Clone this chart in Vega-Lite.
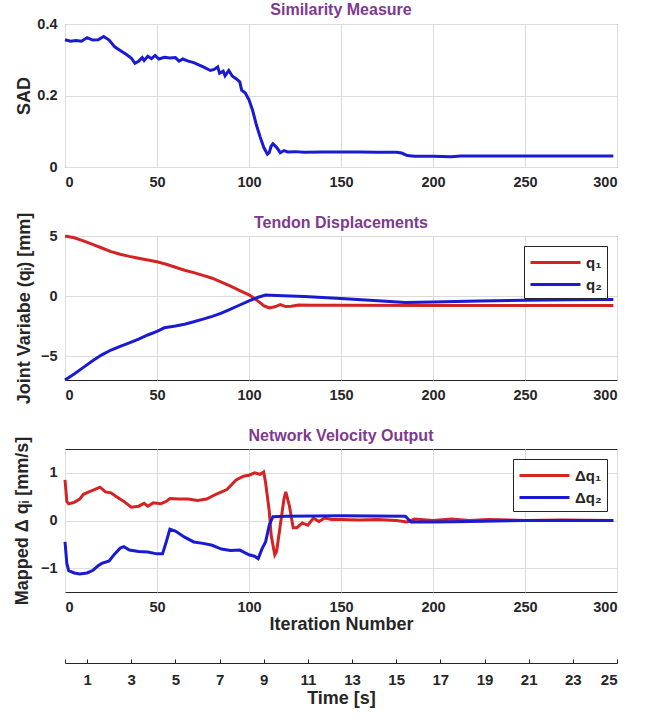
{
  "$schema": "https://vega.github.io/schema/vega-lite/v6.json",
  "padding": {"left": 12, "top": 1, "right": 3, "bottom": 2},
  "spacing": 69,
  "bounds": "flush",
  "config": {
    "font": "Liberation Sans",
    "view": {"stroke": "#262626", "strokeWidth": 1},
    "axis": {
      "labelFontWeight": "bold", "labelFontSize": 14.5, "labelColor": "#262626",
      "titleFontWeight": "bold", "titleFontSize": 18, "titleColor": "#262626",
      "gridColor": "#dcdcdc", "domain": false, "ticks": false, "labelPadding": 8
    },
    "title": {"color": "#7E3A8E", "fontSize": 16, "fontWeight": "bold", "offset": -2},
    "legend": {
      "orient": "top-right", "offset": 10, "fillColor": "white", "strokeColor": "#262626",
      "padding": 5, "symbolType": "M-1,0H4", "symbolStrokeWidth": 3, "symbolSize": 400,
      "labelOffset": 34, "labelFontSize": 15, "labelFontWeight": "bold", "labelColor": "#262626", "rowPadding": 2
    },
    "line": {"strokeWidth": 3}
  },
  "datasets": {
    "sad": [
      {"x":0,"v":0.356},{"x":3,"v":0.352},{"x":6,"v":0.354},{"x":9,"v":0.352},{"x":12,"v":0.362},{"x":15,"v":0.355},{"x":18,"v":0.356},{"x":21,"v":0.365},{"x":24,"v":0.355},{"x":27,"v":0.336},{"x":30,"v":0.326},{"x":33,"v":0.316},{"x":36,"v":0.305},{"x":38,"v":0.29},{"x":40,"v":0.296},{"x":42,"v":0.306},{"x":43,"v":0.298},{"x":45,"v":0.31},{"x":47,"v":0.303},{"x":49,"v":0.312},{"x":51,"v":0.302},{"x":54,"v":0.307},{"x":57,"v":0.305},{"x":60,"v":0.306},{"x":62,"v":0.296},{"x":64,"v":0.302},{"x":67,"v":0.296},{"x":70,"v":0.292},{"x":73,"v":0.285},{"x":76,"v":0.278},{"x":79,"v":0.27},{"x":81,"v":0.273},{"x":83,"v":0.28},{"x":84,"v":0.262},{"x":86,"v":0.268},{"x":87,"v":0.255},{"x":89,"v":0.27},{"x":91,"v":0.254},{"x":93,"v":0.247},{"x":95,"v":0.238},{"x":96,"v":0.215},{"x":98,"v":0.207},{"x":100,"v":0.188},{"x":102,"v":0.158},{"x":104,"v":0.118},{"x":106,"v":0.085},{"x":108,"v":0.055},{"x":110,"v":0.036},{"x":111,"v":0.04},{"x":112,"v":0.058},{"x":113,"v":0.065},{"x":115,"v":0.055},{"x":117,"v":0.04},{"x":119,"v":0.046},{"x":121,"v":0.042},{"x":125,"v":0.043},{"x":130,"v":0.041},{"x":140,"v":0.042},{"x":150,"v":0.042},{"x":160,"v":0.042},{"x":170,"v":0.041},{"x":180,"v":0.041},{"x":183,"v":0.039},{"x":186,"v":0.032},{"x":190,"v":0.03},{"x":200,"v":0.03},{"x":210,"v":0.029},{"x":215,"v":0.031},{"x":250,"v":0.031},{"x":298,"v":0.031}
    ],
    "q": [
      {"x":0,"v":5,"s":"q₁"},{"x":5,"v":4.85,"s":"q₁"},{"x":10,"v":4.6,"s":"q₁"},{"x":15,"v":4.3,"s":"q₁"},{"x":20,"v":4.0,"s":"q₁"},{"x":25,"v":3.7,"s":"q₁"},{"x":30,"v":3.48,"s":"q₁"},{"x":35,"v":3.3,"s":"q₁"},{"x":40,"v":3.15,"s":"q₁"},{"x":45,"v":3.0,"s":"q₁"},{"x":50,"v":2.85,"s":"q₁"},{"x":55,"v":2.65,"s":"q₁"},{"x":60,"v":2.4,"s":"q₁"},{"x":65,"v":2.15,"s":"q₁"},{"x":70,"v":1.95,"s":"q₁"},{"x":75,"v":1.72,"s":"q₁"},{"x":80,"v":1.48,"s":"q₁"},{"x":85,"v":1.15,"s":"q₁"},{"x":90,"v":0.82,"s":"q₁"},{"x":95,"v":0.45,"s":"q₁"},{"x":100,"v":0.1,"s":"q₁"},{"x":103,"v":-0.2,"s":"q₁"},{"x":106,"v":-0.55,"s":"q₁"},{"x":108,"v":-0.8,"s":"q₁"},{"x":111,"v":-1.0,"s":"q₁"},{"x":114,"v":-0.9,"s":"q₁"},{"x":117,"v":-0.72,"s":"q₁"},{"x":120,"v":-0.88,"s":"q₁"},{"x":123,"v":-0.85,"s":"q₁"},{"x":127,"v":-0.75,"s":"q₁"},{"x":135,"v":-0.78,"s":"q₁"},{"x":150,"v":-0.78,"s":"q₁"},{"x":200,"v":-0.8,"s":"q₁"},{"x":250,"v":-0.8,"s":"q₁"},{"x":298,"v":-0.8,"s":"q₁"},
      {"x":0,"v":-7,"s":"q₂"},{"x":5,"v":-6.5,"s":"q₂"},{"x":10,"v":-5.95,"s":"q₂"},{"x":15,"v":-5.4,"s":"q₂"},{"x":20,"v":-4.9,"s":"q₂"},{"x":25,"v":-4.5,"s":"q₂"},{"x":30,"v":-4.2,"s":"q₂"},{"x":35,"v":-3.9,"s":"q₂"},{"x":40,"v":-3.6,"s":"q₂"},{"x":45,"v":-3.25,"s":"q₂"},{"x":50,"v":-2.95,"s":"q₂"},{"x":54,"v":-2.65,"s":"q₂"},{"x":60,"v":-2.5,"s":"q₂"},{"x":65,"v":-2.35,"s":"q₂"},{"x":70,"v":-2.15,"s":"q₂"},{"x":75,"v":-1.93,"s":"q₂"},{"x":80,"v":-1.7,"s":"q₂"},{"x":85,"v":-1.42,"s":"q₂"},{"x":90,"v":-1.1,"s":"q₂"},{"x":95,"v":-0.75,"s":"q₂"},{"x":100,"v":-0.4,"s":"q₂"},{"x":105,"v":-0.1,"s":"q₂"},{"x":109,"v":0.08,"s":"q₂"},{"x":115,"v":0.05,"s":"q₂"},{"x":130,"v":-0.05,"s":"q₂"},{"x":150,"v":-0.2,"s":"q₂"},{"x":170,"v":-0.4,"s":"q₂"},{"x":185,"v":-0.55,"s":"q₂"},{"x":200,"v":-0.5,"s":"q₂"},{"x":225,"v":-0.42,"s":"q₂"},{"x":250,"v":-0.36,"s":"q₂"},{"x":275,"v":-0.32,"s":"q₂"},{"x":298,"v":-0.3,"s":"q₂"}
    ],
    "dq": [
      {"x":0,"v":0.85,"s":"Δq₁"},{"x":1,"v":0.4,"s":"Δq₁"},{"x":2,"v":0.35,"s":"Δq₁"},{"x":5,"v":0.38,"s":"Δq₁"},{"x":8,"v":0.45,"s":"Δq₁"},{"x":10,"v":0.55,"s":"Δq₁"},{"x":13,"v":0.6,"s":"Δq₁"},{"x":16,"v":0.65,"s":"Δq₁"},{"x":19,"v":0.7,"s":"Δq₁"},{"x":22,"v":0.6,"s":"Δq₁"},{"x":25,"v":0.58,"s":"Δq₁"},{"x":28,"v":0.5,"s":"Δq₁"},{"x":32,"v":0.4,"s":"Δq₁"},{"x":36,"v":0.28,"s":"Δq₁"},{"x":40,"v":0.3,"s":"Δq₁"},{"x":43,"v":0.36,"s":"Δq₁"},{"x":45,"v":0.3,"s":"Δq₁"},{"x":48,"v":0.37,"s":"Δq₁"},{"x":52,"v":0.35,"s":"Δq₁"},{"x":55,"v":0.4,"s":"Δq₁"},{"x":57,"v":0.46,"s":"Δq₁"},{"x":62,"v":0.45,"s":"Δq₁"},{"x":67,"v":0.45,"s":"Δq₁"},{"x":72,"v":0.42,"s":"Δq₁"},{"x":77,"v":0.45,"s":"Δq₁"},{"x":82,"v":0.55,"s":"Δq₁"},{"x":88,"v":0.65,"s":"Δq₁"},{"x":93,"v":0.85,"s":"Δq₁"},{"x":97,"v":0.93,"s":"Δq₁"},{"x":100,"v":0.95,"s":"Δq₁"},{"x":103,"v":1.0,"s":"Δq₁"},{"x":106,"v":0.97,"s":"Δq₁"},{"x":108,"v":1.02,"s":"Δq₁"},{"x":109,"v":0.8,"s":"Δq₁"},{"x":111,"v":0.2,"s":"Δq₁"},{"x":112,"v":-0.3,"s":"Δq₁"},{"x":114,"v":-0.72,"s":"Δq₁"},{"x":115,"v":-0.65,"s":"Δq₁"},{"x":117,"v":-0.1,"s":"Δq₁"},{"x":119,"v":0.45,"s":"Δq₁"},{"x":120,"v":0.6,"s":"Δq₁"},{"x":122,"v":0.3,"s":"Δq₁"},{"x":124,"v":-0.15,"s":"Δq₁"},{"x":126,"v":-0.15,"s":"Δq₁"},{"x":129,"v":-0.05,"s":"Δq₁"},{"x":132,"v":-0.1,"s":"Δq₁"},{"x":135,"v":0.05,"s":"Δq₁"},{"x":138,"v":-0.02,"s":"Δq₁"},{"x":141,"v":0.05,"s":"Δq₁"},{"x":145,"v":0.02,"s":"Δq₁"},{"x":150,"v":0.02,"s":"Δq₁"},{"x":160,"v":0.01,"s":"Δq₁"},{"x":170,"v":0.02,"s":"Δq₁"},{"x":180,"v":0.0,"s":"Δq₁"},{"x":186,"v":-0.03,"s":"Δq₁"},{"x":190,"v":0.03,"s":"Δq₁"},{"x":200,"v":0.0,"s":"Δq₁"},{"x":210,"v":0.03,"s":"Δq₁"},{"x":220,"v":0.0,"s":"Δq₁"},{"x":230,"v":0.02,"s":"Δq₁"},{"x":250,"v":0.0,"s":"Δq₁"},{"x":270,"v":0.01,"s":"Δq₁"},{"x":298,"v":0.0,"s":"Δq₁"},
      {"x":0,"v":-0.45,"s":"Δq₂"},{"x":1,"v":-0.9,"s":"Δq₂"},{"x":2,"v":-1.05,"s":"Δq₂"},{"x":5,"v":-1.1,"s":"Δq₂"},{"x":8,"v":-1.12,"s":"Δq₂"},{"x":12,"v":-1.1,"s":"Δq₂"},{"x":15,"v":-1.05,"s":"Δq₂"},{"x":18,"v":-0.95,"s":"Δq₂"},{"x":20,"v":-0.9,"s":"Δq₂"},{"x":24,"v":-0.85,"s":"Δq₂"},{"x":27,"v":-0.7,"s":"Δq₂"},{"x":30,"v":-0.58,"s":"Δq₂"},{"x":32,"v":-0.55,"s":"Δq₂"},{"x":35,"v":-0.62,"s":"Δq₂"},{"x":40,"v":-0.65,"s":"Δq₂"},{"x":45,"v":-0.66,"s":"Δq₂"},{"x":50,"v":-0.7,"s":"Δq₂"},{"x":53,"v":-0.7,"s":"Δq₂"},{"x":55,"v":-0.45,"s":"Δq₂"},{"x":57,"v":-0.18,"s":"Δq₂"},{"x":60,"v":-0.22,"s":"Δq₂"},{"x":65,"v":-0.35,"s":"Δq₂"},{"x":70,"v":-0.45,"s":"Δq₂"},{"x":75,"v":-0.48,"s":"Δq₂"},{"x":80,"v":-0.52,"s":"Δq₂"},{"x":85,"v":-0.6,"s":"Δq₂"},{"x":90,"v":-0.63,"s":"Δq₂"},{"x":95,"v":-0.62,"s":"Δq₂"},{"x":100,"v":-0.72,"s":"Δq₂"},{"x":103,"v":-0.75,"s":"Δq₂"},{"x":105,"v":-0.8,"s":"Δq₂"},{"x":107,"v":-0.6,"s":"Δq₂"},{"x":109,"v":-0.45,"s":"Δq₂"},{"x":111,"v":-0.1,"s":"Δq₂"},{"x":113,"v":0.08,"s":"Δq₂"},{"x":120,"v":0.09,"s":"Δq₂"},{"x":150,"v":0.1,"s":"Δq₂"},{"x":185,"v":0.09,"s":"Δq₂"},{"x":188,"v":-0.03,"s":"Δq₂"},{"x":200,"v":-0.03,"s":"Δq₂"},{"x":220,"v":-0.02,"s":"Δq₂"},{"x":250,"v":0.0,"s":"Δq₂"},{"x":298,"v":0.0,"s":"Δq₂"}
    ],
    "time": [{"t":0},{"t":25}]
  },
  "vconcat": [
    {
      "title": "Similarity Measure",
      "width": 552, "height": 143,
      "data": {"name": "sad"},
      "mark": {"type": "line", "color": "#1a1ad2"},
      "encoding": {
        "x": {"field": "x", "type": "quantitative", "scale": {"domain": [0, 300], "nice": false}, "axis": {"values": [0,50,100,150,200,250,300], "title": null}},
        "y": {"field": "v", "type": "quantitative", "scale": {"domain": [0, 0.4], "nice": false}, "axis": {"values": [0,0.2,0.4], "format": "~g", "title": "SAD", "titlePadding": 3}}
      }
    },
    {
      "title": {"text": "Tendon Displacements", "offset": -19},
      "width": 552, "height": 144,
      "data": {"name": "q"},
      "mark": {"type": "line"},
      "encoding": {
        "x": {"field": "x", "type": "quantitative", "scale": {"domain": [0, 300], "nice": false}, "axis": {"values": [0,50,100,150,200,250,300], "title": null}},
        "y": {"field": "v", "type": "quantitative", "scale": {"domain": [-7, 5], "nice": false}, "axis": {"values": [-5,0,5], "title": "Joint Variabe (qᵢ) [mm]", "titlePadding": 7}},
        "color": {"field": "s", "type": "nominal", "scale": {"domain": ["q₁","q₂"], "range": ["#d42323","#1a1ad2"]}, "legend": {"title": null}}
      }
    },
    {
      "title": {"text": "Network Velocity Output", "offset": -13},
      "width": 552, "height": 143,
      "layer": [
        {
          "data": {"name": "dq"},
          "mark": {"type": "line"},
          "encoding": {
            "x": {"field": "x", "type": "quantitative", "scale": {"domain": [0, 300], "nice": false}, "axis": {"values": [0,50,100,150,200,250,300], "title": "Iteration Number", "titlePadding": 2}},
            "y": {"field": "v", "type": "quantitative", "scale": {"domain": [-1.5, 1.5], "nice": false}, "axis": {"values": [-1,0,1], "title": "Mapped  Δ qᵢ  [mm/s]", "titlePadding": 9}},
            "color": {"field": "s", "type": "nominal", "scale": {"domain": ["Δq₁","Δq₂"], "range": ["#d42323","#1a1ad2"]}, "legend": {"title": null}}
          }
        },
        {
          "data": {"name": "time"},
          "mark": {"type": "point", "opacity": 0},
          "encoding": {
            "x": {"field": "t", "type": "quantitative", "scale": {"domain": [0, 25], "nice": false},
              "axis": {"orient": "bottom", "offset": 71, "values": [0,1,3,5,7,9,11,13,15,17,19,21,23,25], "labelExpr": "datum.value == 0 ? '' : datum.label", "grid": false, "domain": true, "domainColor": "#262626", "ticks": true, "tickSize": -4, "tickColor": "#262626", "labelPadding": 13, "title": "Time [s]", "titlePadding": 2, "labelFontSize": 15, "titleFontSize": 18}}
          }
        }
      ],
      "resolve": {"scale": {"x": "independent"}, "axis": {"x": "independent"}}
    }
  ],
  "resolve": {"scale": {"color": "independent"}, "legend": {"color": "independent"}}
}
